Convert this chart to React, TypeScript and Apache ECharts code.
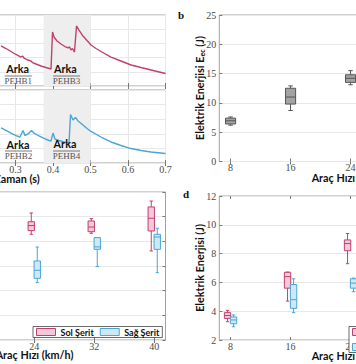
import React, { useEffect, useRef } from 'react';
import * as echarts from 'echarts';

// ---- Panel a: PEHB voltage traces (time in s, arbitrary units) ----
const timeTop = [0.2613, 0.2747, 0.288, 0.3013, 0.3147, 0.3187, 0.3227, 0.3333, 0.3413, 0.3453, 0.3547, 0.368, 0.3813, 0.3947, 0.3987, 0.4027, 0.4107, 0.4213, 0.432, 0.44, 0.444, 0.448, 0.452, 0.4573, 0.4627, 0.4693, 0.48, 0.4907, 0.5013, 0.5147, 0.528, 0.5547, 0.5813, 0.608, 0.6347, 0.6613, 0.7];
const valueTop = [2.82, 2.64, 2.43, 2.22, 2.04, 2.11, 1.97, 1.83, 1.76, 1.65, 1.55, 1.41, 1.3, 1.2, 3.8, 3.45, 3.17, 2.96, 2.78, 2.68, 2.75, 2.54, 2.64, 2.39, 4.23, 3.94, 3.52, 3.2, 2.89, 2.64, 2.43, 2.04, 1.76, 1.48, 1.3, 1.13, 0.88];
const timeBottom = [0.2613, 0.2747, 0.288, 0.3013, 0.312, 0.32, 0.3253, 0.3333, 0.3427, 0.3493, 0.3627, 0.376, 0.3893, 0.3947, 0.4, 0.4053, 0.416, 0.4293, 0.4427, 0.4467, 0.4533, 0.46, 0.4667, 0.48, 0.4907, 0.5013, 0.528, 0.5547, 0.5813, 0.608, 0.6347, 0.6613, 0.7];
const valueBottom = [2.4, 2.23, 2.05, 1.88, 1.78, 2.23, 1.88, 1.99, 2.23, 2.05, 1.85, 1.68, 1.54, 1.51, 2.05, 1.64, 1.54, 1.44, 1.37, 3.32, 2.95, 3.12, 2.88, 2.6, 2.36, 2.16, 1.78, 1.44, 1.2, 0.99, 0.86, 0.75, 0.65];
const shadeStart = 0.375;
const shadeEnd = 0.5;

// ---- Speed ticks ----
const speedTicks = [8, 16, 24, 32, 40];

// ---- Panel b: E_ec box summaries ----
const bSpeeds = [8, 16, 24];
const bMin = [6.2, 8.7, 13.1];
const bQ1 = [6.4, 9.8, 13.5];
const bMed = [6.95, 11.0, 14.2];
const bQ3 = [7.4, 12.5, 14.8];
const bMax = [7.6, 12.9, 15.5];

// ---- Panel c ----
const cSpeeds = [24, 32, 40];
const cSolMin = [8.57, 8.65, 7.22];
const cSolQ1 = [8.87, 8.78, 8.84];
const cSolMed = [9.28, 9.16, 9.87];
const cSolQ3 = [9.59, 9.65, 10.79];
const cSolMax = [10.3, 9.84, 11.27];
const cSagMin = [4.65, 5.95, 5.46];
const cSagQ1 = [5.0, 7.35, 7.35];
const cSagMed = [5.65, 7.55, 8.35];
const cSagQ3 = [6.41, 8.3, 8.57];
const cSagMax = [7.54, 8.3, 9.06];

// ---- Panel d ----
const dSpeeds = [8, 16, 24];
const dSolMin = [3.27, 4.7, 7.3];
const dSolQ1 = [3.5, 5.6, 8.2];
const dSolMed = [3.7, 6.4, 8.7];
const dSolQ3 = [3.9, 6.7, 8.95];
const dSolMax = [4.06, 6.72, 9.4];
const dSagMin = [2.92, 3.9, 5.35];
const dSagQ1 = [3.13, 4.2, 5.6];
const dSagMed = [3.39, 4.8, 5.95];
const dSagQ3 = [3.6, 5.85, 6.25];
const dSagMax = [3.74, 6.25, 6.3];

const legendNames = ['Sol Şerit', 'Sağ Şerit'];

// ---- styles ----
const PINK = '#c0416f';
const PINK_FILL = '#f3c8d8';
const BLUE = '#4aa6d4';
const BLUE_FILL = '#cfe8f5';
const GRAY_STROKE = '#555555';
const GRAY_FILL = '#a3a3a3';
const FRAME = '#a0a0a0';
const SPLIT = '#e8e8e8';
const TICK = '#777777';
const serif = 'Liberation Serif';
const sans = 'Lato';

const summary = (xs: number[], a: number[], b: number[], c: number[], d: number[], e: number[]) =>
  xs.map((x, i) => [x, a[i], b[i], c[i], d[i], e[i]]);

function boxRenderer(offset: number, boxW: number, capW: number, stroke: string, fill: string) {
  return (_params: any, api: any) => {
    const xv = api.value(0) + offset;
    const cx = api.coord([xv, api.value(3)])[0];
    const yMin = api.coord([xv, api.value(1)])[1];
    const yQ1 = api.coord([xv, api.value(2)])[1];
    const yMed = api.coord([xv, api.value(3)])[1];
    const yQ3 = api.coord([xv, api.value(4)])[1];
    const yMax = api.coord([xv, api.value(5)])[1];
    const half = api.size([boxW, 0])[0] / 2;
    const cap = api.size([capW, 0])[0] / 2;
    const ls = { stroke, lineWidth: 1 };
    return {
      type: 'group',
      children: [
        { type: 'line', shape: { x1: cx, y1: yMax, x2: cx, y2: yQ3 }, style: ls },
        { type: 'line', shape: { x1: cx, y1: yQ1, x2: cx, y2: yMin }, style: ls },
        { type: 'line', shape: { x1: cx - cap, y1: yMax, x2: cx + cap, y2: yMax }, style: ls },
        { type: 'line', shape: { x1: cx - cap, y1: yMin, x2: cx + cap, y2: yMin }, style: ls },
        { type: 'rect', shape: { x: cx - half, y: yQ3, width: half * 2, height: yQ1 - yQ3 }, style: { fill, stroke, lineWidth: 1 } },
        { type: 'line', shape: { x1: cx - half, y1: yMed, x2: cx + half, y2: yMed }, style: ls },
      ],
    };
  };
}

const labelStyle = { fontFamily: serif, fontSize: 10, color: '#4a4a4a' };

function xAxisDef(gridIndex: number, position: 'top' | 'bottom', min: number, max: number, o: any) {
  const tick: any = { show: true, inside: true, length: 3, lineStyle: { color: TICK } };
  const label: any = { show: !!o.label, margin: 1, ...labelStyle };
  if (o.custom) {
    tick.customValues = o.custom;
    label.customValues = o.custom;
  }
  const ax: any = {
    type: 'value', gridIndex, position, min, max,
    axisLine: { show: false },
    axisTick: tick,
    axisLabel: label,
    splitLine: { show: !!o.split, lineStyle: { color: SPLIT, width: 1 } },
  };
  if (o.interval) ax.interval = o.interval;
  return ax;
}

function yAxisDef(gridIndex: number, position: 'left' | 'right', min: number, max: number, interval: number, o: any) {
  return {
    type: 'value', gridIndex, position, min, max, interval,
    axisLine: { show: false },
    axisTick: { show: true, inside: true, length: 3, lineStyle: { color: TICK } },
    axisLabel: { show: !!o.label, margin: 3, ...labelStyle },
    splitLine: { show: !!o.split, lineStyle: { color: SPLIT, width: 1 } },
  };
}

const gridBase = { show: true, borderColor: FRAME, borderWidth: 1, backgroundColor: 'transparent', containLabel: false, outerBoundsMode: 'none' };
const LEFT_PANEL = -97;
const RIGHT_PANEL = 219.3;
const PANEL_W = 262.5;
const TOP_Z = 100;

const boldTitle = (text: string, x: number, y: number, rot = 0) => ({
  type: 'text', x, y, rotation: rot, scaleX: 0.9, z: TOP_Z,
  style: { text, fontFamily: sans, fontWeight: 'bold', fontSize: 12, fill: '#111', align: 'center', verticalAlign: 'middle' },
});
const arka = (x: number, y: number) => ({
  type: 'text', x, y, scaleX: 0.9, z: TOP_Z,
  style: { text: 'Arka', fontFamily: sans, fontWeight: 'bold', fontSize: 12, fill: '#111', align: 'center', verticalAlign: 'middle' },
});
const pehb = (label: string, x: number, y: number) => ({
  type: 'group', x, y, z: TOP_Z,
  children: [
    { type: 'text', x: 0, y: 0, z: TOP_Z, style: { text: label, fontFamily: serif, fontSize: 9, fill: '#555', align: 'center', verticalAlign: 'middle' } },
    { type: 'line', z: TOP_Z, shape: { x1: -13.5, y1: -4.5, x2: 13.5, y2: -4.5 }, style: { stroke: '#555', lineWidth: 0.8 } },
  ],
});

const legendCommon = {
  orient: 'horizontal',
  data: [
    { name: legendNames[0], icon: 'rect', itemStyle: { color: PINK_FILL, borderColor: PINK, borderWidth: 1 } },
    { name: legendNames[1], icon: 'rect', itemStyle: { color: BLUE_FILL, borderColor: BLUE, borderWidth: 1 } },
  ],
  itemWidth: 19,
  itemHeight: 7,
  itemGap: 6,
  padding: [1, 3, 1, 3],
  borderColor: '#444',
  borderWidth: 0.8,
  borderRadius: 0,
  backgroundColor: '#ffffff',
  selectedMode: false,
  z: 20,
  textStyle: { fontFamily: sans, fontWeight: 'bold', fontSize: 9, color: '#111', lineHeight: 8 },
};

export default function App() {
  const ref = useRef<HTMLDivElement>(null);
  useEffect(() => {
    if (!ref.current) return;
    const chart = echarts.init(ref.current, undefined, { renderer: 'svg' });
    const option: any = {
      animation: false,
      backgroundColor: '#ffffff',
      grid: [
        { ...gridBase, left: LEFT_PANEL, top: 15, width: PANEL_W, height: 71 },
        { ...gridBase, left: LEFT_PANEL, top: 90, width: PANEL_W, height: 73 },
        { ...gridBase, left: RIGHT_PANEL, top: 15, width: PANEL_W, height: 146.5 },
        { ...gridBase, left: LEFT_PANEL, top: 192, width: PANEL_W, height: 148 },
        { ...gridBase, left: RIGHT_PANEL, top: 196, width: PANEL_W, height: 144 },
      ],
      xAxis: [
        xAxisDef(0, 'bottom', 0, 0.7, { interval: 0.1, split: true }),
        xAxisDef(0, 'top', 0, 0.7, { interval: 0.1 }),
        xAxisDef(1, 'bottom', 0, 0.7, { interval: 0.1, split: true, label: true }),
        xAxisDef(1, 'top', 0, 0.7, { interval: 0.1 }),
        xAxisDef(2, 'bottom', 6.5, 41.5, { custom: speedTicks, label: true }),
        xAxisDef(2, 'top', 6.5, 41.5, { custom: speedTicks }),
        xAxisDef(3, 'bottom', 6.5, 41.5, { custom: speedTicks, label: true }),
        xAxisDef(3, 'top', 6.5, 41.5, { custom: speedTicks }),
        xAxisDef(4, 'bottom', 6.5, 41.5, { custom: speedTicks, label: true }),
        xAxisDef(4, 'top', 6.5, 41.5, { custom: speedTicks }),
      ],
      yAxis: [
        yAxisDef(0, 'left', 0, 5, 1, { split: true }),
        yAxisDef(0, 'right', 0, 5, 1, {}),
        yAxisDef(1, 'left', 0, 5, 1, { split: true }),
        yAxisDef(1, 'right', 0, 5, 1, {}),
        yAxisDef(2, 'left', 0, 25, 5, { split: true, label: true }),
        yAxisDef(2, 'right', 0, 25, 5, {}),
        yAxisDef(3, 'left', 0, 12, 2, { split: true }),
        yAxisDef(3, 'right', 0, 12, 2, {}),
        yAxisDef(4, 'left', 2, 12, 2, { split: true, label: true }),
        yAxisDef(4, 'right', 2, 12, 2, {}),
      ],
      legend: [
        { ...legendCommon, left: 33, top: 326.5 },
        { ...legendCommon, left: 349, top: 326.5 },
      ],
      series: [
        {
          type: 'line', name: 'PEHB1-3', xAxisIndex: 0, yAxisIndex: 0,
          data: timeTop.map((t, i) => [t, valueTop[i]]),
          showSymbol: false, lineStyle: { color: PINK, width: 1.4 }, itemStyle: { color: PINK },
          markArea: { silent: true, itemStyle: { color: '#eeeeee' }, data: [[{ xAxis: shadeStart }, { xAxis: shadeEnd }]] },
          z: 3,
        },
        {
          type: 'line', name: 'PEHB2-4', xAxisIndex: 2, yAxisIndex: 2,
          data: timeBottom.map((t, i) => [t, valueBottom[i]]),
          showSymbol: false, lineStyle: { color: BLUE, width: 1.4 }, itemStyle: { color: BLUE },
          markArea: { silent: true, itemStyle: { color: '#eeeeee' }, data: [[{ xAxis: shadeStart }, { xAxis: shadeEnd }]] },
          z: 3,
        },
        {
          type: 'custom', name: 'E_ec', xAxisIndex: 4, yAxisIndex: 4,
          data: summary(bSpeeds, bMin, bQ1, bMed, bQ3, bMax),
          encode: { x: 0, y: [1, 2, 3, 4, 5] },
          renderItem: boxRenderer(0, 1.35, 0.6, GRAY_STROKE, GRAY_FILL),
        },
        {
          type: 'custom', name: legendNames[0], xAxisIndex: 6, yAxisIndex: 6,
          data: summary(cSpeeds, cSolMin, cSolQ1, cSolMed, cSolQ3, cSolMax),
          encode: { x: 0, y: [1, 2, 3, 4, 5] },
          itemStyle: { color: PINK_FILL, borderColor: PINK },
          renderItem: boxRenderer(-0.4, 0.85, 0.45, PINK, PINK_FILL),
        },
        {
          type: 'custom', name: legendNames[1], xAxisIndex: 6, yAxisIndex: 6,
          data: summary(cSpeeds, cSagMin, cSagQ1, cSagMed, cSagQ3, cSagMax),
          encode: { x: 0, y: [1, 2, 3, 4, 5] },
          itemStyle: { color: BLUE_FILL, borderColor: BLUE },
          renderItem: boxRenderer(0.4, 0.85, 0.45, BLUE, BLUE_FILL),
        },
        {
          type: 'custom', name: legendNames[0], xAxisIndex: 8, yAxisIndex: 8,
          data: summary(dSpeeds, dSolMin, dSolQ1, dSolMed, dSolQ3, dSolMax),
          encode: { x: 0, y: [1, 2, 3, 4, 5] },
          itemStyle: { color: PINK_FILL, borderColor: PINK },
          renderItem: boxRenderer(-0.4, 0.85, 0.45, PINK, PINK_FILL),
        },
        {
          type: 'custom', name: legendNames[1], xAxisIndex: 8, yAxisIndex: 8,
          data: summary(dSpeeds, dSagMin, dSagQ1, dSagMed, dSagQ3, dSagMax),
          encode: { x: 0, y: [1, 2, 3, 4, 5] },
          itemStyle: { color: BLUE_FILL, borderColor: BLUE },
          renderItem: boxRenderer(0.4, 0.85, 0.45, BLUE, BLUE_FILL),
        },
      ],
      graphic: [
        arka(17.7, 68), arka(65.3, 68), arka(18, 144), arka(65, 143.5),
        pehb('PEHB1', 18.3, 80.5), pehb('PEHB3', 66.6, 80.5),
        pehb('PEHB2', 18.5, 155.5), pehb('PEHB4', 66.5, 155.5),
        boldTitle('Zaman (s)', 17, 178),
        boldTitle('Araç Hızı (km/h)', 350.5, 177),
        boldTitle('Araç Hızı (km/h)', 34.5, 354.5),
        boldTitle('Araç Hızı (km/h)', 350.5, 355),
        {
          type: 'text', x: 199.3, y: 88, rotation: Math.PI / 2, scaleX: 0.9, z: TOP_Z,
          style: {
            text: '{n|Elektrik Enerjisi E}{s|ec}{n| (J)}',
            align: 'center', verticalAlign: 'middle', fill: '#111',
            rich: {
              n: { fontFamily: sans, fontWeight: 'bold', fontSize: 12, fill: '#111', lineHeight: 14 },
              s: { fontFamily: sans, fontWeight: 'bold', fontSize: 8, fill: '#111', lineHeight: 14, verticalAlign: 'bottom', padding: [4, 0, 0, 0] },
            },
          },
        },
        boldTitle('Elektrik Enerjisi (J)', 199, 268, Math.PI / 2),
        { type: 'text', x: 181, y: 15, z: TOP_Z, style: { text: 'b', fontFamily: serif, fontWeight: 'bold', fontSize: 11, fill: '#111', align: 'center', verticalAlign: 'middle' } },
        { type: 'text', x: 186, y: 194, z: TOP_Z, style: { text: 'd', fontFamily: serif, fontWeight: 'bold', fontSize: 11, fill: '#111', align: 'center', verticalAlign: 'middle' } },
      ],
    };
    chart.setOption(option);
    return () => chart.dispose();
  }, []);
  return <div ref={ref} style={{ position: 'absolute', left: 0, top: 0, width: 356, height: 364 }} />;
}
